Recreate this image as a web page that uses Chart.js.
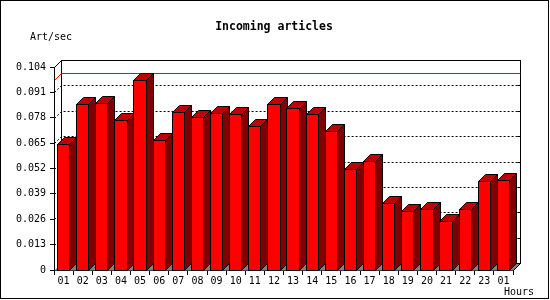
<!DOCTYPE html>
<html>
<head>
<meta charset="utf-8">
<script src="https://cdn.jsdelivr.net/npm/chart.js@4/dist/chart.umd.min.js"></script>
<style>
  body { margin: 0; background: #fff; }
  canvas { display: block; }
</style>
</head>
<body>
<canvas id="articlesChart" width="550" height="300"></canvas>
<script>
const hours = ['01', '02', '03', '04', '05', '06', '07', '08', '09', '10', '11', '12',
  '13', '14', '15', '16', '17', '18', '19', '20', '21', '22', '23', '01'];
const artPerSec = [0.0644, 0.0849, 0.0854, 0.0767, 0.0972, 0.0664, 0.0808, 0.0782,
  0.0803, 0.0798, 0.0736, 0.0849, 0.0828, 0.0798, 0.0711, 0.0516, 0.0557, 0.0342,
  0.0301, 0.0311, 0.0249, 0.0311, 0.0454, 0.0460];
const yTickValues = [0, 0.013, 0.026, 0.039, 0.052, 0.065, 0.078, 0.091, 0.104];
const yTickLabels = ['0', '0.013', '0.026', '0.039', '0.052', '0.065', '0.078', '0.091', '0.104'];
const chartTitle = 'Incoming articles';
const yAxisTitle = 'Art/sec';
const xAxisTitle = 'Hours';

const DEPTH = 7;
const MONO = '"DejaVu Sans Mono", "Liberation Mono", monospace';

document.addEventListener('DOMContentLoaded', () => {
  const canvas = document.getElementById('articlesChart');

  // back wall, floor, dotted grid and the max line, drawn in 3D offset
  const box3d = {
    id: 'box3d',
    beforeDraw(chart) {
      const ctx = chart.ctx;
      ctx.save();
      ctx.fillStyle = '#fff';
      ctx.fillRect(0, 0, chart.width, chart.height);
      ctx.strokeStyle = '#000';
      ctx.lineWidth = 1;
      ctx.strokeRect(0.5, 0.5, 548, 298);

      ctx.fillStyle = '#000';
      ctx.textBaseline = 'middle';
      ctx.textAlign = 'center';
      ctx.font = 'bold 11.5px ' + MONO;
      ctx.fillText(chartTitle, 274, 27);
      ctx.textAlign = 'left';
      ctx.font = '10px ' + MONO;
      ctx.fillText(yAxisTitle, 30, 37);
      ctx.fillText(xAxisTitle, 504, 292);
      ctx.restore();
    },
    beforeDatasetsDraw(chart) {
      const ctx = chart.ctx;
      const a = chart.chartArea;
      const y = chart.scales.y;
      const L = Math.round(a.left) + 0.5, R = Math.round(a.right) + 0.5;
      const T = Math.round(a.top) + 0.5, B = Math.round(a.bottom) + 0.5;
      ctx.save();
      ctx.lineWidth = 1;

      // floor
      ctx.fillStyle = '#808080';
      ctx.beginPath();
      ctx.moveTo(L, B);
      ctx.lineTo(R, B);
      ctx.lineTo(R + DEPTH, B - DEPTH);
      ctx.lineTo(L + DEPTH, B - DEPTH);
      ctx.closePath();
      ctx.fill();

      // back wall frame
      ctx.strokeStyle = '#000';
      ctx.strokeRect(L + DEPTH, T - DEPTH, R - L, B - T);
      ctx.beginPath();
      ctx.moveTo(L, T);
      ctx.lineTo(L + DEPTH, T - DEPTH);
      ctx.moveTo(R, B);
      ctx.lineTo(R + DEPTH, B - DEPTH);
      ctx.stroke();

      // dotted grid on the wall
      yTickValues.forEach((v, i) => {
        if (i === 0 || i === yTickValues.length - 1) return;
        const yy = Math.round(y.getPixelForValue(v)) + 0.5;
        ctx.setLineDash([2, 2]);
        ctx.beginPath();
        ctx.moveTo(L, yy);
        ctx.lineTo(L + DEPTH, yy - DEPTH);
        ctx.lineTo(R + DEPTH, yy - DEPTH);
        ctx.stroke();
        ctx.setLineDash([]);
        ctx.beginPath();
        ctx.moveTo(R + DEPTH - 3, yy - DEPTH);
        ctx.lineTo(R + DEPTH, yy - DEPTH);
        ctx.stroke();
      });

      // max value line
      const ym = Math.round(y.getPixelForValue(Math.max(...artPerSec))) + 0.5;
      ctx.strokeStyle = '#ff0000';
      ctx.beginPath();
      ctx.moveTo(L, ym);
      ctx.lineTo(L + DEPTH, ym - DEPTH);
      ctx.lineTo(R + DEPTH, ym - DEPTH);
      ctx.stroke();
      ctx.restore();
    },
    afterDatasetsDraw(chart) {
      const ctx = chart.ctx;
      const meta = chart.getDatasetMeta(0);
      ctx.save();
      ctx.lineWidth = 1;
      ctx.strokeStyle = '#000';
      meta.data.forEach(bar => {
        const p = bar.getProps(['x', 'y', 'base', 'width'], true);
        const x0 = Math.floor(p.x - p.width / 2) + 0.5;
        const x1 = Math.ceil(p.x + p.width / 2) - 0.5;
        const yt = Math.floor(p.y) + 0.5;
        const yb = Math.round(p.base) + 0.5;

        ctx.fillStyle = '#ff0000';
        ctx.fillRect(x0, yt, x1 - x0, yb - yt);
        ctx.strokeRect(x0, yt, x1 - x0, yb - yt);

        ctx.fillStyle = '#800000';
        ctx.beginPath();
        ctx.moveTo(x1, yt);
        ctx.lineTo(x1 + DEPTH, yt - DEPTH);
        ctx.lineTo(x1 + DEPTH, yb - DEPTH);
        ctx.lineTo(x1, yb);
        ctx.closePath();
        ctx.fill();
        ctx.stroke();

        ctx.fillStyle = '#c00000';
        ctx.beginPath();
        ctx.moveTo(x0, yt);
        ctx.lineTo(x0 + DEPTH, yt - DEPTH);
        ctx.lineTo(x1 + DEPTH, yt - DEPTH);
        ctx.lineTo(x1, yt);
        ctx.closePath();
        ctx.fill();
        ctx.stroke();
      });
      ctx.restore();
    }
  };

  new Chart(canvas.getContext('2d'), {
    type: 'bar',
    data: {
      labels: hours,
      datasets: [{
        label: yAxisTitle,
        data: artPerSec,
        backgroundColor: '#ff0000',
        borderColor: '#000',
        borderWidth: 1,
        categoryPercentage: 1,
        barPercentage: 0.64,
      }],
    },
    options: {
      responsive: false,
      animation: false,
      events: [],
      layout: { padding: { top: 67, right: 37, left: 0, bottom: 0 } },
      plugins: {
        legend: { display: false },
        tooltip: { enabled: false },
      },
      scales: {
        x: {
          afterFit: scale => { scale.height = 30; },
          grid: {
            offset: true,
            drawOnChartArea: false,
            tickLength: 5,
            color: '#000',
          },
          border: { display: true, color: '#000', width: 1 },
          ticks: {
            color: '#000',
            font: { family: MONO, size: 10 },
            padding: 0,
            autoSkip: false,
            maxRotation: 0,
          },
        },
        y: {
          min: 0,
          max: 0.104,
          afterFit: scale => { scale.width = 54; },
          afterBuildTicks: scale => {
            scale.ticks = yTickValues.map(value => ({ value }));
          },
          grid: {
            drawOnChartArea: false,
            tickLength: 4,
            color: '#000',
          },
          border: { display: true, color: '#000', width: 1 },
          ticks: {
            color: '#000',
            font: { family: MONO, size: 10 },
            padding: 4,
            callback: (value, index) => yTickLabels[index],
          },
        },
      },
    },
    plugins: [box3d],
  });
});
</script>
</body>
</html>
